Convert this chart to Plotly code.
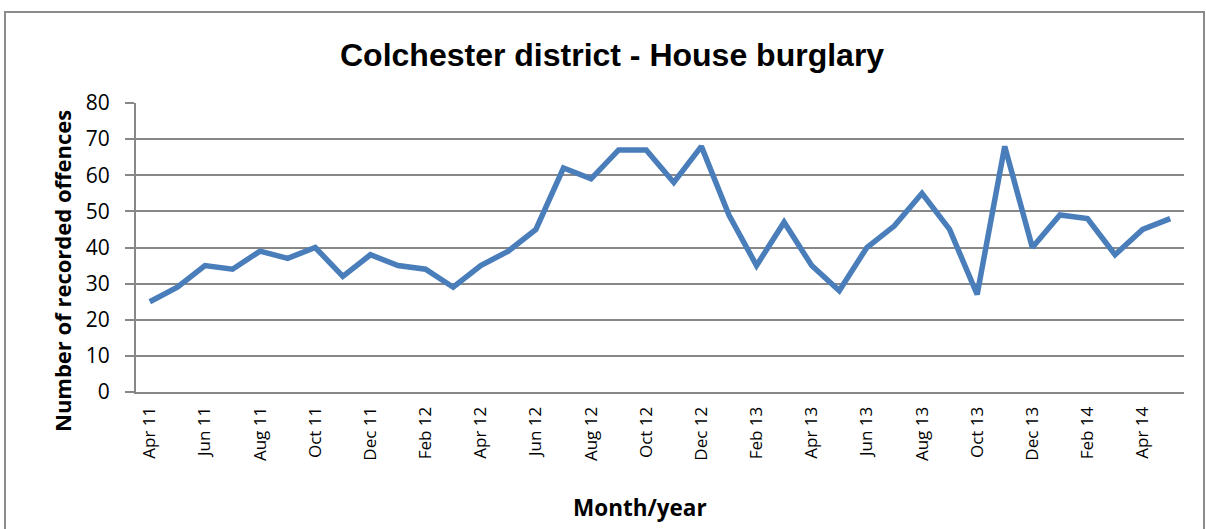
import plotly.graph_objects as go

months = ["Apr 11", "May 11", "Jun 11", "Jul 11", "Aug 11", "Sep 11", "Oct 11", "Nov 11", "Dec 11",
          "Jan 12", "Feb 12", "Mar 12", "Apr 12", "May 12", "Jun 12", "Jul 12", "Aug 12", "Sep 12",
          "Oct 12", "Nov 12", "Dec 12", "Jan 13", "Feb 13", "Mar 13", "Apr 13", "May 13", "Jun 13",
          "Jul 13", "Aug 13", "Sep 13", "Oct 13", "Nov 13", "Dec 13", "Jan 14", "Feb 14", "Mar 14",
          "Apr 14", "May 14"]
offences = [25, 29, 35, 34, 39, 37, 40, 32, 38,
            35, 34, 29, 35, 39, 45, 62, 59, 67,
            67, 58, 68, 49, 35, 47, 35, 28, 40,
            46, 55, 45, 27, 68, 40, 49, 48, 38,
            45, 48]
tick_labels = months[::2]
y_ticks = [0, 10, 20, 30, 40, 50, 60, 70, 80]

W, H = 1206, 529
L, R, T, B = 136, 22, 103, 137
pw, ph = W - L - R, H - T - B

def px(x):
    return (x - L) / pw

def py(y):
    return (H - B - y) / ph

fig = go.Figure()
fig.add_trace(go.Scatter(
    x=months, y=offences, mode="lines",
    line=dict(color="#4a7ebb", width=5.5),
    hoverinfo="x+y", showlegend=False,
))

grid = "#878787"
body_font = "Open Sans, DejaVu Sans, sans-serif"
fig.update_layout(
    width=W, height=H,
    margin=dict(l=L, r=R, t=T, b=B),
    paper_bgcolor="white", plot_bgcolor="white",
    xaxis=dict(
        type="category", categoryorder="array", categoryarray=months,
        range=[-0.5, len(months) - 0.5],
        tickmode="array", tickvals=tick_labels, ticktext=tick_labels,
        tickangle=-90, showgrid=False, showline=True, linecolor=grid, linewidth=2,
        ticks="", tickfont=dict(family=body_font, size=17, color="black"),
        ticklabelstandoff=6, zeroline=False,
    ),
    yaxis=dict(
        range=[0, 80], tickvals=y_ticks, showgrid=True, gridcolor=grid, gridwidth=2,
        showline=True, linecolor=grid, linewidth=2, ticks="outside", ticklen=9, tickcolor=grid,
        tickwidth=2, zeroline=False,
        tickfont=dict(family=body_font, size=21, color="black"),
        ticklabelstandoff=11,
    ),
    shapes=[dict(
        type="rect", xref="paper", yref="paper",
        x0=px(5), x1=px(1204), y0=py(560), y1=py(12),
        line=dict(color="#8c8c8c", width=2), fillcolor="rgba(0,0,0,0)", layer="below",
    )],
    annotations=[
        dict(text="<b>Colchester district - House burglary</b>", xref="paper", yref="paper",
             x=px(612), y=py(55), xanchor="center", yanchor="middle",
             showarrow=False, font=dict(family="Liberation Sans, Arial, sans-serif", size=32, color="black")),
        dict(text="<b>Number of recorded offences</b>", xref="paper", yref="paper",
             x=px(62), y=py(271), xanchor="center", yanchor="middle",
             textangle=-90, showarrow=False,
             font=dict(family=body_font, size=22, color="black")),
        dict(text="<b>Month/year</b>", xref="paper", yref="paper",
             x=px(640), y=py(507), xanchor="center", yanchor="middle",
             showarrow=False,
             font=dict(family=body_font, size=22.5, color="black")),
    ],
)

fig.write_html("out.html", config={"displayModeBar": False},
               post_script="document.body.style.margin='0px';")
